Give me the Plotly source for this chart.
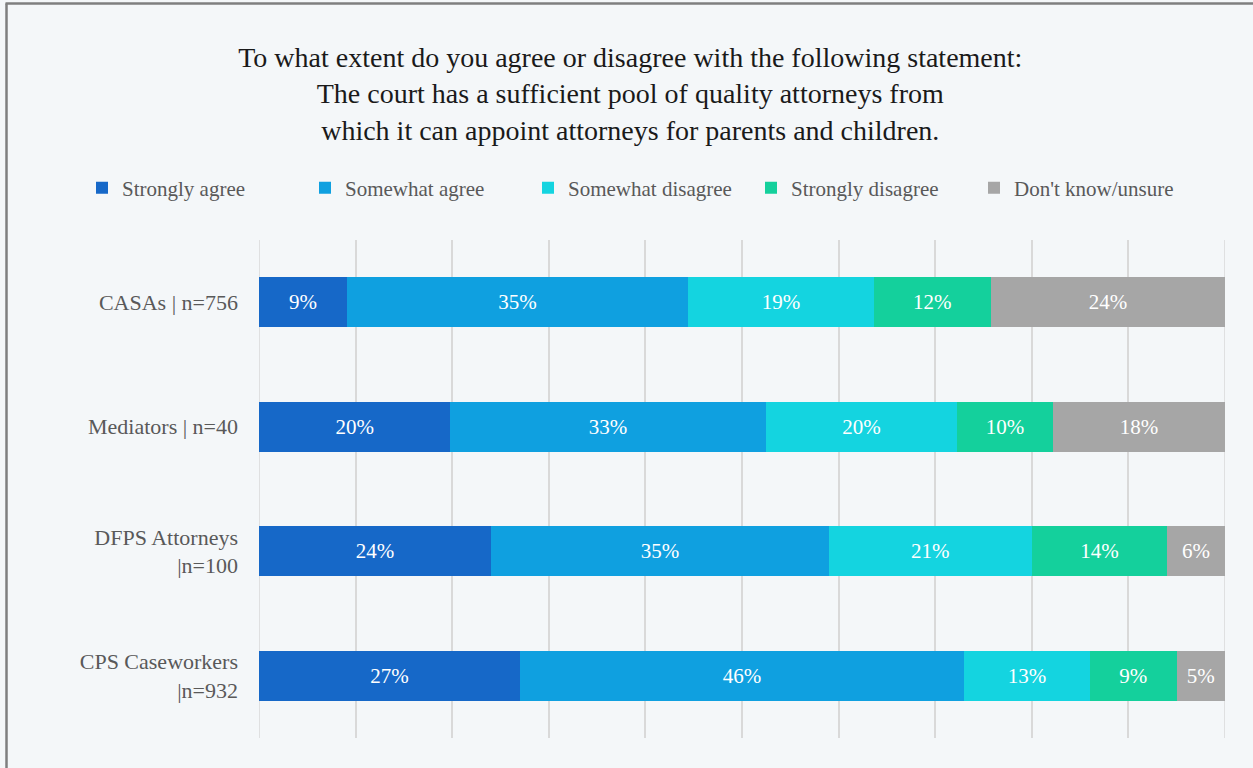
import plotly.graph_objects as go

groups = ["CASAs | n=756", "Mediators | n=40", "DFPS Attorneys<br>|n=100", "CPS Caseworkers<br>|n=932"]
series_names = ["Strongly agree", "Somewhat agree", "Somewhat disagree", "Strongly disagree", "Don't know/unsure"]
strongly_agree = [9, 20, 24, 27]
somewhat_agree = [35, 33, 35, 46]
somewhat_disagree = [19, 20, 21, 13]
strongly_disagree = [12, 10, 14, 9]
dont_know = [24, 18, 6, 5]
values = [strongly_agree, somewhat_agree, somewhat_disagree, strongly_disagree, dont_know]
colors = ["#1668c8", "#0fa0e0", "#14d4e0", "#14d09c", "#a6a6a6"]

W, H = 1253, 768
L, R, T, B = 259, 28, 240, 30
pw, ph = W - L - R, H - T - B

def px_x(x):
    return (x - L) / pw

def px_y(y):
    return 1 - (y - T) / ph

FONT = "Liberation Serif"

fig = go.Figure()
for name, vals, col in zip(series_names, values, colors):
    fig.add_trace(go.Bar(
        y=groups, x=vals, name=name, orientation="h",
        marker=dict(color=col, line=dict(width=0)),
        text=[f"{v}%" for v in vals], textposition="inside",
        insidetextanchor="middle", textangle=0,
        textfont=dict(family=FONT, size=21, color="white"),
        constraintext="none", width=0.4,
    ))

fig.update_layout(
    width=W, height=H,
    barmode="stack", barnorm="percent",
    margin=dict(l=L, r=R, t=T, b=B),
    paper_bgcolor="#f4f7f9", plot_bgcolor="rgba(0,0,0,0)",
    font=dict(family=FONT, size=20, color="#595959"),
    title=dict(
        text="To what extent do you agree or disagree with the following statement:<br>The court has a sufficient pool of quality attorneys from<br>which it can appoint attorneys for parents and children.",
        x=0.503, xanchor="center", xref="container",
        y=1 - 67 / H, yanchor="top", yref="container",
        font=dict(family=FONT, size=28, color="#1a1a1a"),
    ),
    legend=dict(
        orientation="h", x=px_x(82), xanchor="left",
        y=px_y(188), yanchor="middle",
        font=dict(family=FONT, size=21, color="#595959"),
        traceorder="normal", itemwidth=30, entrywidth=178,
        bgcolor="rgba(0,0,0,0)",
    ),
    xaxis=dict(range=[0, 100], dtick=10, showticklabels=False, showgrid=True,
               gridcolor="#d9d9d9", gridwidth=1.5, zeroline=False, fixedrange=True),
    yaxis=dict(categoryorder="array", categoryarray=groups, autorange="reversed",
               showgrid=False, ticklabelstandoff=20, ticks="",
               tickfont=dict(family=FONT, size=22, color="#595959")),
    shapes=[
        dict(type="line", xref="x", yref="paper", x0=0, x1=0, y0=0, y1=1,
             layer="below", line=dict(color="#d9d9d9", width=1.5)),
        dict(type="line", xref="x", yref="paper", x0=100, x1=100, y0=0, y1=1,
             layer="below", line=dict(color="#d9d9d9", width=1.5)),
        dict(type="line", xref="paper", yref="paper", x0=px_x(6.5), x1=px_x(6.5),
             y0=px_y(3.5), y1=px_y(800), line=dict(color="#7f7f7f", width=2.5)),
        dict(type="line", xref="paper", yref="paper", x0=px_x(5.5), x1=px_x(1300),
             y0=px_y(3.5), y1=px_y(3.5), line=dict(color="#7f7f7f", width=2.5)),
    ],
)

fig.write_html("out.html", config={"displayModeBar": False},
               post_script="document.body.style.margin='0';")
